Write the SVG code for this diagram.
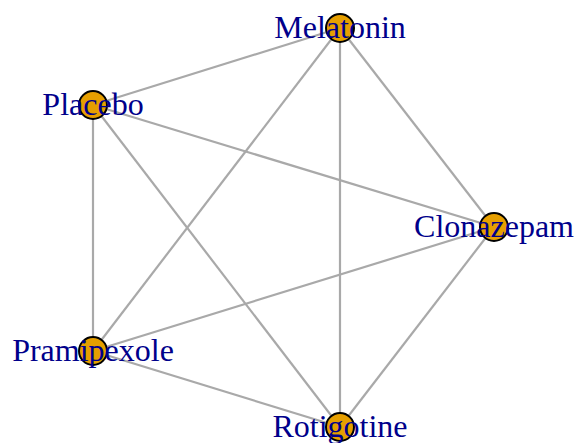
<svg xmlns="http://www.w3.org/2000/svg" width="574" height="443" viewBox="0 0 574 443">
<style>
.e{stroke:#a9a9a9;stroke-width:2.2;fill:none}
.n{fill:#e69f00;stroke:#000;stroke-width:2}
.t{font-family:"Liberation Serif","Times New Roman",serif;font-size:32px;fill:#00008b;text-anchor:middle}
</style>
<rect width="574" height="443" fill="#fff"/>
<g id="edges">
<line class="e" x1="340" y1="28" x2="93" y2="105"/>
<line class="e" x1="340" y1="28" x2="494" y2="227"/>
<line class="e" x1="340" y1="28" x2="93" y2="351"/>
<line class="e" x1="340" y1="28" x2="340" y2="427"/>
<line class="e" x1="93" y1="105" x2="494" y2="227"/>
<line class="e" x1="93" y1="105" x2="93" y2="351"/>
<line class="e" x1="93" y1="105" x2="340" y2="427"/>
<line class="e" x1="494" y1="227" x2="93" y2="351"/>
<line class="e" x1="494" y1="227" x2="340" y2="427"/>
<line class="e" x1="93" y1="351" x2="340" y2="427"/>
</g>
<g id="melatonin"><circle class="n" cx="340" cy="28" r="14"/><text class="t" x="340" y="38">Melatonin</text></g>
<g id="placebo"><circle class="n" cx="93" cy="105" r="14"/><text class="t" x="93" y="115">Placebo</text></g>
<g id="clonazepam"><circle class="n" cx="494" cy="227" r="14"/><text class="t" x="494" y="237">Clonazepam</text></g>
<g id="pramipexole"><circle class="n" cx="93" cy="351" r="14"/><text class="t" x="93" y="361">Pramipexole</text></g>
<g id="rotigotine"><circle class="n" cx="340" cy="427" r="14"/><text class="t" x="340" y="437">Rotigotine</text></g>
</svg>
